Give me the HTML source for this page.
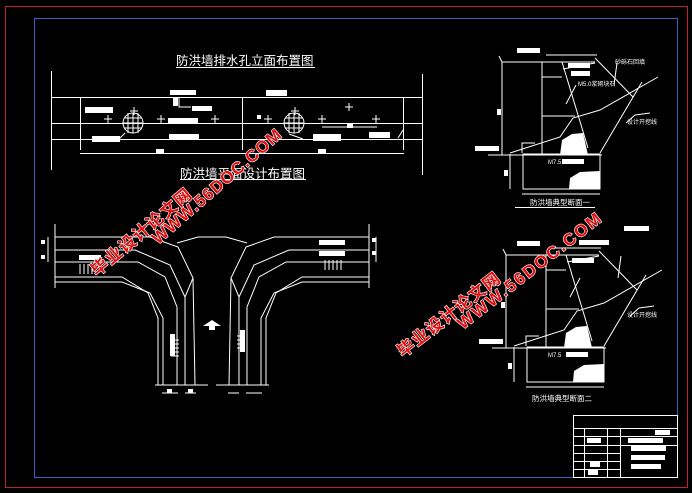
<!DOCTYPE html>
<html><head><meta charset="utf-8"><style>
html,body{margin:0;padding:0;background:#000;}
svg{display:block}
.t{font-family:"Liberation Sans","Noto Sans CJK SC",sans-serif;fill:#fff}
.wm{font-family:"Liberation Sans","Noto Sans CJK SC",sans-serif;font-weight:bold;fill:#e01010;stroke:#fff;stroke-width:1.2;paint-order:stroke}
</style></head><body>
<svg width="692" height="493" viewBox="0 0 692 493" xmlns="http://www.w3.org/2000/svg">
<rect width="692" height="493" fill="#000"/>
<rect x="5.5" y="6.5" width="682" height="481" fill="none" stroke="#c02030" stroke-width="1"/>
<rect x="34.5" y="18.5" width="643" height="459" fill="none" stroke="#4060c0" stroke-width="1"/>

<g stroke="#fff" stroke-width="1" fill="none">
<!-- elevation -->
<text class="t" x="176" y="65" font-size="12.5" stroke="none">防洪墙排水孔立面布置图</text>
<line x1="176" y1="67.5" x2="315" y2="67.5"/>
<line x1="51.5" y1="71" x2="51.5" y2="170"/>
<line x1="422.5" y1="74" x2="422.5" y2="175"/>
<line x1="51" y1="97.5" x2="422" y2="97.5"/>
<line x1="51" y1="123.5" x2="422" y2="123.5"/>
<line x1="51" y1="139.5" x2="422" y2="139.5"/>
<line x1="80.5" y1="97" x2="80.5" y2="150"/>
<line x1="242.5" y1="97" x2="242.5" y2="150"/>
<line x1="403.5" y1="97" x2="403.5" y2="150"/>
<line x1="80" y1="153.5" x2="404" y2="153.5"/>
<circle cx="133" cy="123" r="10"/>
<circle cx="294" cy="123" r="10"/>
<path d="M124 118h18M123 123h20M124 128h18M128 113v20M133 113v20M138 113v20M285 118h18M284 123h20M285 128h18M289 113v20M294 113v20M299 113v20"/>
<path d="M134 107v8M130 111h8M295 107v8M291 111h8M349 103v8M345 107h8M161 115v8M157 119h8M215 115v8M211 119h8M108 115v8M104 119h8M268 115v8M264 119h8M322 115v8M318 119h8M376 115v8M372 119h8M322 127h55M179 97v10h12M125 133l-6 6M289 134l14 5M398 138l5-8"/>
<!-- plan title -->
<text class="t" x="180" y="178" font-size="12.5" stroke="none">防洪墙平面设计布置图</text>
<line x1="180" y1="179.5" x2="306" y2="179.5"/>
<!-- plan left -->
<g id="L">
<line x1="55" y1="224" x2="55" y2="288"/>
<polyline points="55,237 150,237 178,247 193,278 185,297"/>
<polyline points="177,243 198,237 218,237"/>
<polyline points="193,278 195,385"/>
<polyline points="55,250 135,250 170,265 185,297 185,385"/>
<polyline points="55,262 138,262 165,277 177,307 177,385"/>
<polyline points="55,277 122,277 148,293 158,318 158,385"/>
<polyline points="55,282 122,282 150,293 163,318 163,385"/>
<line x1="155" y1="385" x2="208" y2="385"/>
<line x1="162" y1="393" x2="178" y2="393"/>
<line x1="185" y1="393" x2="196" y2="393"/>
<line x1="48" y1="237" x2="48" y2="262"/>
</g>
<use href="#L" transform="translate(424,0) scale(-1,1)"/>
<path d="M80 264v10M84 264v10M88 264v10M92 264v10M171 340h8M171 344h8M171 348h8M171 352h8M171 356h8M245 336h-8M245 340h-8M245 344h-8M245 348h-8M325 260v10M329 260v10M333 260v10M337 260v10M341 260v10"/>
</g>
<g fill="#fff">
<rect x="85" y="107" width="28" height="6"/><rect x="92" y="136" width="28" height="6"/><rect x="170" y="90" width="26" height="5"/><rect x="173" y="98" width="5" height="8"/><rect x="192" y="106" width="20" height="5"/><rect x="168" y="118" width="30" height="6"/><rect x="169" y="134" width="30" height="6"/><rect x="156" y="149" width="8" height="5"/>
<rect x="266" y="90" width="21" height="6"/><rect x="257" y="115" width="4" height="4"/><rect x="313" y="134" width="28" height="7"/><rect x="369" y="132" width="21" height="6"/><rect x="347" y="124" width="6" height="4"/><rect x="318" y="149" width="8" height="5"/>
<rect x="79" y="255" width="22" height="5"/><rect x="319" y="240" width="26" height="5"/><rect x="319" y="251" width="26" height="5"/>
<rect x="41" y="240" width="4" height="4"/><rect x="41" y="255" width="4" height="4"/><rect x="372" y="238" width="4" height="4"/><rect x="372" y="251" width="4" height="4"/>
<rect x="170" y="334" width="5" height="22"/><rect x="240" y="330" width="5" height="22"/>
<polygon points="212,320 203,326 209,326 209,330 215,330 215,326 221,326"/>
<rect x="167" y="389" width="5" height="4"/><rect x="188" y="389" width="5" height="4"/>
</g>

<!-- sections -->
<g id="S" stroke="#fff" stroke-width="1" fill="none">
<polyline points="502,155 502,62 595,62"/>
<line x1="499" y1="56" x2="502" y2="62"/>
<line x1="542" y1="62" x2="542" y2="155"/>
<line x1="542" y1="77" x2="562" y2="77"/>
<line x1="542" y1="116" x2="575" y2="116"/>
<line x1="562" y1="62" x2="588" y2="148"/>
<polyline points="595,58 633,97"/>
<polyline points="510,153 560,137 573,118 600,110 658,77"/>
<polyline points="600,153 642,82"/>
<line x1="488" y1="155" x2="602" y2="155"/>
<rect x="523" y="154" width="77" height="35"/>
<line x1="510" y1="154" x2="510" y2="189"/>
<line x1="522" y1="194" x2="600" y2="194"/>
<line x1="546" y1="55" x2="597" y2="55"/>
<polyline points="563,69 595,63"/>
<polyline points="617,63 614,85"/>
<polyline points="626,123 635,115 650,113"/>
<polyline points="566,104 576,85"/>
<polyline points="522,153 522,143 535,143"/>
</g>
<g fill="#fff">
<rect x="517" y="48" width="23" height="5"/><rect x="568" y="63" width="22" height="5"/><rect x="571" y="71" width="19" height="5"/><rect x="497" y="109" width="4" height="6"/><rect x="475" y="146" width="24" height="5"/>
<polygon points="560,155 562,140 572,134 583,133 588,155"/><polygon points="569,189 570,178 580,172 600,171 600,189"/>
<rect x="562" y="159" width="22" height="5"/><rect x="504" y="170" width="4" height="6"/>
</g>
<text class="t" x="548" y="164" font-size="6">M7.5</text>
<text class="t" x="615" y="64" font-size="6">砂砾石回填</text>
<text class="t" x="578" y="86" font-size="6">M5.0浆砌块石</text>
<text class="t" x="627" y="124" font-size="6">设计开挖线</text>
<text class="t" x="530" y="205" font-size="7.5">防洪墙典型断面一</text>
<line x1="515" y1="207.5" x2="595" y2="207.5" stroke="#fff"/>

<use href="#S" transform="translate(4,193)"/>
<g fill="#fff" transform="translate(4,193)">
<rect x="513" y="48" width="23" height="5"/><rect x="568" y="65" width="22" height="5"/><rect x="575" y="47" width="30" height="5"/><rect x="620" y="33" width="25" height="5"/><rect x="497" y="109" width="4" height="6"/><rect x="475" y="146" width="24" height="5"/>
<polygon points="560,155 562,140 572,134 583,133 588,155"/><polygon points="569,189 570,178 580,172 600,171 600,189"/>
<rect x="562" y="159" width="22" height="5"/><rect x="504" y="170" width="4" height="6"/>
</g>
<text class="t" x="548" y="357" font-size="6">M7.5</text>
<text class="t" x="627" y="317" font-size="6">设计开挖线</text>
<text class="t" x="532" y="401" font-size="7.5">防洪墙典型断面二</text>

<!-- title block -->
<g stroke="#fff" stroke-width="1" fill="none">
<rect x="573.5" y="415.5" width="104" height="62"/>
<line x1="573" y1="428.5" x2="677" y2="428.5"/>
<line x1="573" y1="436.5" x2="677" y2="436.5"/>
<line x1="573" y1="445.5" x2="677" y2="445.5"/>
<line x1="573" y1="453.5" x2="620" y2="453.5"/>
<line x1="573" y1="461.5" x2="620" y2="461.5"/>
<line x1="573" y1="469.5" x2="620" y2="469.5"/>
<line x1="584.5" y1="428" x2="584.5" y2="477"/>
<line x1="607.5" y1="428" x2="607.5" y2="477"/>
<line x1="620.5" y1="428" x2="620.5" y2="477"/>
</g>
<g fill="#fff"><rect x="587" y="438" width="14" height="5"/><rect x="590" y="462" width="10" height="5"/><rect x="588" y="470" width="10" height="5"/><rect x="628" y="438" width="35" height="5"/><rect x="631" y="446" width="35" height="5"/><rect x="631" y="455" width="34" height="5"/><rect x="631" y="464" width="30" height="5"/><rect x="655" y="430" width="15" height="5"/></g>

<!-- watermarks -->
<text class="wm" font-size="17" transform="translate(97,277) rotate(-40)" letter-spacing="1">毕业设计论文网</text>
<text class="wm" font-size="17" transform="translate(158,245) rotate(-41)" letter-spacing="1">WWW.56DOC.COM</text>
<text class="wm" font-size="17" transform="translate(403,358) rotate(-38)" letter-spacing="1">毕业设计论文网</text>
<text class="wm" font-size="17" transform="translate(463,330) rotate(-38)" letter-spacing="2">WWW.56DOC.COM</text>
</svg>
</body></html>
